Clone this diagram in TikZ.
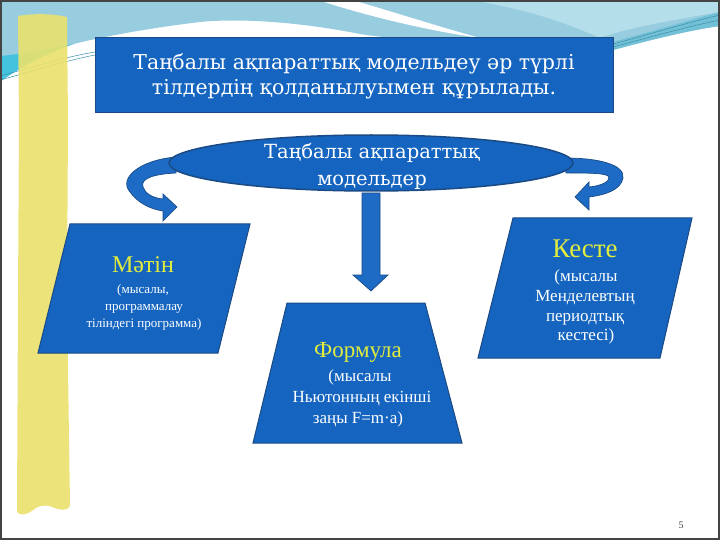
\documentclass[tikz,border=0pt]{standalone}
\usepackage{fontspec}
\setmainfont{Liberation Serif}
\newfontfamily\headfont{DejaVu Serif}
\usetikzlibrary{shapes.geometric}
\definecolor{boxblue}{HTML}{1565C0}
\definecolor{boxedge}{HTML}{1B4A85}
\definecolor{arrowblue}{HTML}{1E6BC6}
\definecolor{skyblue}{HTML}{98CDE0}
\definecolor{skylight}{HTML}{B4DEEA}
\definecolor{cyanband}{HTML}{45C3DE}
\definecolor{tealband}{HTML}{72C0D6}
\definecolor{tealline}{HTML}{3A8FA8}
\definecolor{stripyellow}{HTML}{EAE26C}
\definecolor{labelyellow}{HTML}{E2EC3C}
\definecolor{framegray}{HTML}{444444}
\tikzset{
  shapebox/.style={fill=boxblue, draw=boxedge, line width=1pt},
  curlarrow/.style={fill=arrowblue, draw=boxedge, line width=0.7pt},
  headtext/.style={text=white, inner sep=0pt, font=\headfont\fontsize{20.5}{24}\selectfont},
  elltext/.style={text=white, inner sep=0pt, font=\headfont\fontsize{19.5}{23}\selectfont},
  bigword/.style={text=labelyellow, inner sep=0pt},
  smalltext/.style={text=white, inner sep=0pt, font=\fontsize{17}{20}\selectfont},
  tinytext/.style={text=white, inner sep=0pt, font=\fontsize{13}{16}\selectfont}
}
\begin{document}
\begin{tikzpicture}[x=1pt, y=-1pt]
\useasboundingbox (0,0) rectangle (720,540);
\fill[white] (0,0) rectangle (720,540);
% top swoosh
\fill[skyblue] (0,0) -- (720,0) -- (720,26) .. controls (690,30) and (650,40) .. (613,50) -- (613,39) -- (400,39)
  .. controls (385,37) and (372,36) .. (360,34) .. controls (300,22) and (240,18) .. (200,22)
  .. controls (150,28) and (100,37) .. (70,45) .. controls (40,55) and (15,70) .. (0,82) -- cycle;
\fill[skylight] (470,0) -- (720,0) -- (720,12) .. controls (660,22) and (620,30) .. (600,38) .. controls (560,20) and (520,8) .. (470,0) -- cycle;
\fill[tealband] (613,42) .. controls (650,32) and (690,20) .. (720,12) -- (720,26) .. controls (690,30) and (650,40) .. (613,50) -- cycle;
\draw[tealline, line width=0.5pt] (613,44) .. controls (650,34) and (690,22) .. (720,15);
\draw[tealline, line width=0.5pt] (613,47) .. controls (650,37) and (690,26) .. (720,20);
\fill[cyanband] (0,56) .. controls (25,54) and (50,48) .. (74,44) .. controls (45,54) and (15,70) .. (0,82) -- cycle;
\draw[tealline, line width=0.5pt] (0,76) .. controls (30,68) and (60,58) .. (95,52);
\draw[tealline, line width=0.5pt] (0,80) .. controls (30,72) and (60,62) .. (95,55);
\fill[white] (318,0) -- (352,0) .. controls (400,14) and (440,27) .. (480,38) .. controls (430,31) and (370,17) .. (318,0) -- cycle;
% yellow strip
\fill[stripyellow, opacity=0.9] (18,16) .. controls (35,13) and (55,14) .. (67,17) -- (68,120) -- (67,300) -- (70,505)
  .. controls (68,512) and (60,510) .. (52,507) .. controls (44,504) and (38,506) .. (33,510)
  .. controls (27,515) and (20,516) .. (17,512) -- (18,300) -- (19,120) -- cycle;
% frame
\draw[framegray, line width=2pt] (1,1) rectangle (719,539);

% title box
\node[shapebox, minimum width=518pt, minimum height=75pt, inner sep=0pt] (titlebox) at (354,75.5) {};
\node[headtext, anchor=base] (t1) at (354,70) {Таңбалы ақпараттық модельдеу әр түрлі};
\node[headtext, anchor=base] (t2) at (354,95) {тілдердің қолданылуымен құрылады.};

% curved arrows
\draw[curlarrow] (176,157) .. controls (140,160) and (118,178) .. (130,192) .. controls (138,203) and (150,209) .. (163,211)
  -- (163,221) -- (177,207) -- (163,194) -- (163,199) .. controls (152,198) and (145,193) .. (143,187)
  .. controls (140,178) and (155,174) .. (176,173) -- cycle;
\draw[curlarrow] (565,158) .. controls (600,158) and (625,165) .. (623,178) .. controls (621,190) and (605,195) .. (589,197)
  -- (589,210) -- (575,197) -- (589,182) -- (589,187) .. controls (600,186) and (610,182) .. (609,177)
  .. controls (607,173) and (590,173) .. (566,173) -- cycle;
% down arrow
\draw[curlarrow] (362,193) -- (380,193) -- (380,275) -- (388,275) -- (371,291) -- (353,275) -- (362,275) -- cycle;

% ellipse
\node[ellipse, fill=boxblue, draw=boxedge, line width=1.5pt, minimum width=404pt, minimum height=56pt, inner sep=0pt] (ell) at (371,163) {};
\node[elltext, anchor=base] (e1) at (372,159) {Таңбалы ақпараттық};
\node[elltext, anchor=base] (e2) at (372,186) {модельдер};

% Matin
\draw[shapebox] (70,224) -- (250,224) -- (218,353) -- (38,353) -- cycle;
\node[bigword, font=\fontsize{24}{28}\selectfont, anchor=base] (m0) at (143,272) {Мәтін};
\node[tinytext, anchor=base] (m1) at (143,293) {(мысалы,};
\node[tinytext, anchor=base] (m2) at (144,310) {программалау};
\node[tinytext, anchor=base] (m3) at (144,327) {тіліндегі программа)};

% Keste
\draw[shapebox] (513,218) -- (692,218) -- (660,358) -- (478,358) -- cycle;
\node[bigword, font=\fontsize{27}{30}\selectfont, anchor=base] (k0) at (585,257) {Кесте};
\node[smalltext, anchor=base] (k1) at (586,281) {(мысалы};
\node[smalltext, anchor=base] (k2) at (585,301) {Менделевтың};
\node[smalltext, anchor=base] (k3) at (585,321) {периодтық};
\node[smalltext, anchor=base] (k4) at (586,340) {кестесі)};

% Formula
\draw[shapebox] (287,303) -- (425,303) -- (462,443) -- (253,443) -- cycle;
\node[bigword, font=\fontsize{23}{27}\selectfont, anchor=base] (f0) at (358,357) {Формула};
\node[smalltext, anchor=base] (f1) at (360,381) {(мысалы};
\node[smalltext, anchor=base] (f2) at (362,402) {Ньютонның екінші};
\node[smalltext, anchor=base] (f3) at (358,423) {заңы F=m·a)};

% page number
\node[text=framegray, inner sep=0pt, font=\fontsize{10}{12}\selectfont] (pg) at (681,525) {5};
\end{tikzpicture}
\end{document}
